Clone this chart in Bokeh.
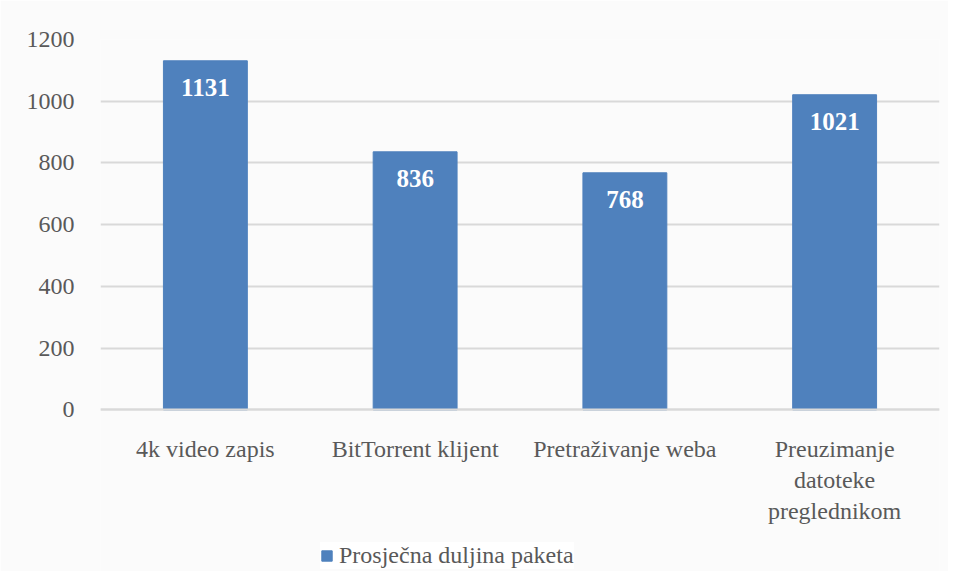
from bokeh.plotting import figure
from bokeh.models import (ColumnDataSource, Legend, LegendItem, Range1d,
                          FixedTicker)
from bokeh.core.properties import value
from bokeh.embed import file_html
from bokeh.resources import INLINE

categories = ["4k video zapis", "BitTorrent klijent", "Pretraživanje weba",
              "Preuzimanje\ndatoteke\npreglednikom"]
values = [1131, 836, 768, 1021]
series_name = "Prosječna duljina paketa"
y_ticks = [0, 200, 400, 600, 800, 1000, 1200]

FONT = "Liberation Serif"
BLUE = "#4f81bd"
GRAY = "#595959"
FS = "24px"

src = ColumnDataSource(dict(cat=categories, val=values,
                            lab=[str(v) for v in values]))

# frame extends below the value axis to host the category labels and legend
p = figure(x_range=categories, y_range=Range1d(-524, 1200),
           frame_width=839, frame_height=532,
           output_backend="svg", toolbar_location=None,
           min_border_left=100, min_border_right=9, min_border_top=39,
           min_border_bottom=0)
p.background_fill_color = "#fbfbfb"
p.border_fill_color = "#fbfbfb"
p.outline_line_color = None

bars = p.vbar(x="cat", top="val", bottom=0, width=0.4, source=src,
              fill_color=BLUE, line_color=BLUE)

p.text(x="cat", y="val", text="lab", source=src, text_align="center",
       text_baseline="middle", y_offset=27, text_color="white",
       text_font=value(FONT), text_font_style="bold", text_font_size="25px")

p.yaxis.ticker = FixedTicker(ticks=y_ticks)
p.yaxis.axis_line_color = None
p.yaxis.major_tick_line_color = None
p.yaxis.minor_tick_line_color = None
p.yaxis.major_label_text_font = FONT
p.yaxis.major_label_text_font_size = FS
p.yaxis.major_label_text_color = GRAY
p.yaxis.major_label_standoff = 20

p.xaxis.fixed_location = 0
p.xaxis.axis_line_color = "#d9d9d9"
p.xaxis.axis_line_width = 2
p.xaxis.major_tick_line_color = None
p.xaxis.minor_tick_line_color = None
p.xaxis.major_label_text_font = FONT
p.xaxis.major_label_text_font_size = FS
p.xaxis.major_label_text_color = GRAY
p.xaxis.major_label_standoff = 20

p.xgrid.grid_line_color = None
p.ygrid.grid_line_color = "#d9d9d9"
p.ygrid.grid_line_width = 2

legend = Legend(items=[LegendItem(label=series_name, renderers=[bars])],
                location=(220, 2), orientation="horizontal",
                label_text_font=FONT, label_text_font_size=FS,
                label_text_color=GRAY, glyph_width=13, glyph_height=13,
                background_fill_color="white", background_fill_alpha=1.0,
                border_line_color=None, padding=8, margin=0,
                label_standoff=6)
p.add_layout(legend, "center")

open("out.html", "w").write(file_html(p, INLINE))
